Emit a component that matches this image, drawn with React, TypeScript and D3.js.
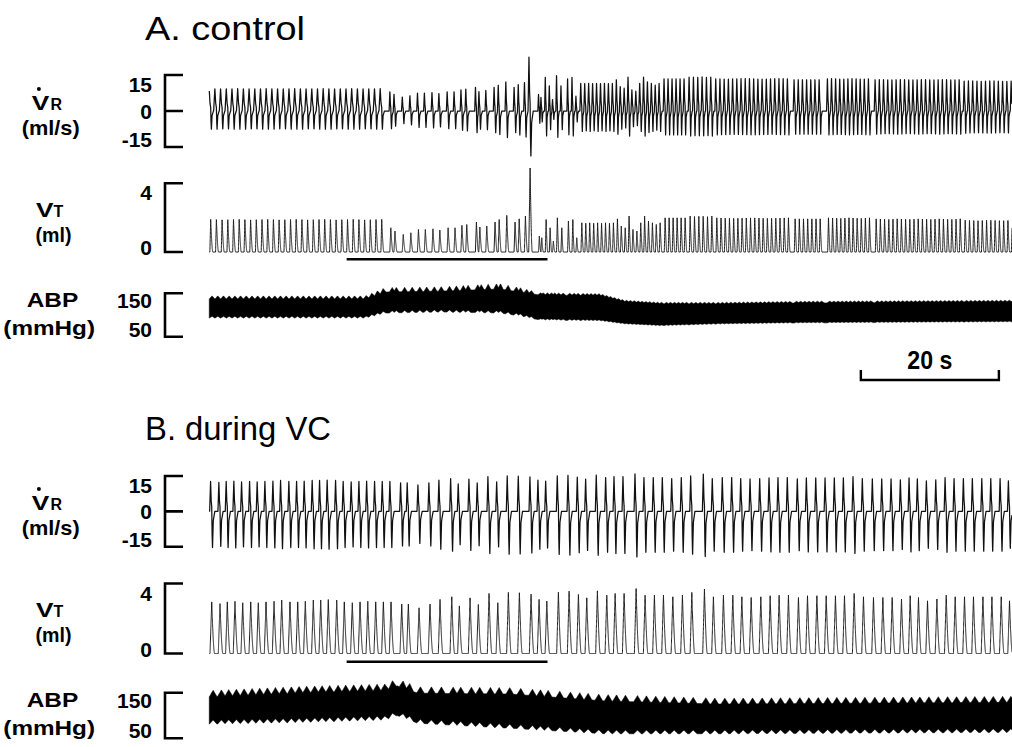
import React from "react";
import * as d3 from "d3";

// ---------------- time axis (seconds) ----------------
const timeDomain = [0, 116.2];
const scaleBarSec = [94.3, 114.3];
const vcMarkerSec = [19.8, 48.9];

// ---------------- Panel A (control) ----------------
// regular breath groups: [first peak (s), last peak (s), breaths, VT peak (ml)]
const aPreGroups = [[0.1, 24.88, 31, 1.9]];
const aVcTimes = [26.2, 26.8, 28.0, 29.1, 30.2, 31.2, 32.3, 33.3, 34.5, 35.5, 36.5, 37.2, 38.6, 39.1, 40.1, 41.3, 41.9, 43.0, 44.2, 44.8, 45.7];
const aVcVT = [1.41, 1.22, 1.02, 1.12, 1.31, 1.31, 1.35, 1.28, 1.41, 1.41, 1.55, 1.6, 1.74, 1.45, 1.51, 1.74, 1.89, 2.13, 1.74, 1.93, 2.09];
const aSighTimes = [46.38];
const aSighVT = [4.89];
const aIrrTimes = [47.72, 48.07, 48.7, 49.28, 49.75, 50.33, 50.97, 51.93, 52.57, 53.14];
const aIrrVT = [0.93, 0.83, 1.89, 1.41, 0.64, 1.99, 1.41, 1.8, 1.89, 0.83];
const aPostTimes = [59.03, 59.59, 60.16, 60.72, 61.28, 61.85, 62.41, 62.97, 63.53, 64.1, 64.66, 65.22];
const aPostVT = [1.93, 1.51, 1.41, 2.09, 1.31, 1.22, 1.7, 2.09, 1.8, 1.7, 1.6, 1.7];
const aPostGroups = [
  [53.87, 58.45, 9, 1.7],
  [65.94, 68.84, 6, 1.99],
  [69.57, 72.71, 6, 2.09],
  [73.43, 83.81, 18, 1.99],
  [84.78, 88.41, 7, 1.93],
  [89.61, 95.55, 11, 1.99],
  [96.52, 108.7, 21, 1.93],
  [109.42, 116.23, 12, 1.85],
];
// ABP envelope knots (mmHg)
const abpATime = [0, 22.5, 25.4, 33.3, 42.0, 44.9, 47.8, 56.5, 60.1, 65.2, 73.9, 85.5, 116.2];
const abpASys = [137, 137, 153, 155, 160, 153, 146, 144, 130, 125, 125, 127.6, 130];
const abpADia = [93, 93, 104.6, 107, 104.6, 98, 88.5, 86, 79, 75, 79, 81.6, 84];
const abpASwingTop = [7, 7, 10, 10, 12, 10, 5, 5, 4, 4, 4, 4, 4];
const abpASwingBot = [4, 4, 5, 5, 5, 5, 3, 3, 2, 2, 2, 2, 2];

// ---------------- Panel B (during VC) ----------------
const bTimes = [
  0.25, 1.45, 2.51, 3.62, 4.74, 5.9, 7.0, 8.12, 9.28, 10.39, 11.59, 12.71, 13.81, 14.97, 16.04, 17.14, 18.36, 19.46, 20.62, 21.74, 22.86, 24.01, 25.12, 26.23,
  27.78, 28.74, 30.29, 31.88, 33.33, 35.03, 36.13, 37.68, 38.88, 40.43, 41.7, 43.23, 44.83, 46.52, 47.68, 48.8, 50.48, 52.03, 53.38, 54.59, 56.13, 57.49, 58.7,
  60.0, 61.74, 63.04, 64.39, 65.7, 67.06, 68.45, 69.81, 71.64, 72.94, 74.39, 75.75, 77.06, 78.41, 79.81, 81.16, 82.46, 83.81, 85.26, 86.57, 87.93, 89.28,
  90.62, 91.93, 93.33, 94.68, 96.13, 97.49, 98.84, 100.19, 101.45, 102.65, 103.96, 105.32, 106.67, 107.97, 109.32, 110.62, 111.99, 113.29, 114.64, 115.84,
];
const bVT = [
  2.95, 2.85, 2.95, 2.98, 2.9, 2.95, 2.9, 2.95, 2.98, 3.05, 2.95, 2.95, 2.98, 3.05, 3.05, 3.08, 3.05, 2.95, 2.9, 2.95, 2.98, 2.95, 2.95, 2.95,
  2.82, 2.82, 2.61, 2.82, 3.09, 3.24, 2.72, 3.18, 2.8, 3.43, 2.9, 3.49, 3.47, 3.39, 3.09, 2.99, 3.5, 3.56, 3.37, 3.18, 3.58, 3.33, 3.43,
  3.43, 3.71, 3.33, 3.33, 3.33, 3.24, 3.33, 3.49, 3.68, 3.24, 3.33, 3.33, 3.24, 3.2, 3.24, 3.3, 3.33, 3.33, 3.2, 3.3, 3.3, 3.3,
  3.3, 3.3, 3.43, 3.24, 3.2, 3.2, 3.2, 3.11, 3.3, 3.2, 3.01, 3.11, 3.33, 3.24, 3.24, 3.24, 3.24, 3.24, 3.24, 3.01,
];
const abpBTime = [0, 13.6, 25.4, 27.1, 30.1, 43.6, 57.1, 73.6, 116.2];
const abpBSys = [141, 150, 155, 165, 149, 147, 132, 125, 129];
const abpBDia = [81, 85, 90, 100, 83, 72, 60, 60, 63];
const abpBSwingTop = [14, 14, 14, 16, 14, 14, 14, 13, 13];
const abpBSwingBot = [9, 9, 9, 9, 9, 9, 8, 8, 8];

// ---------------- rendering helpers ----------------
// r/f: VT rise / fall time (s); vr/vf: VR waveform extent before / after the VT peak (s); up/dn: VR gain per ml
type Sty = { r: number; f: number; vr: number; vf: number; up: number; dn: number };
const STY: Record<string, Sty> = {
  aPre: { r: 0.12, f: 0.3, vr: 0.4, vf: 0.4, up: 4.9, dn: 4.0 },
  aVc: { r: 0.15, f: 0.3, vr: 0.25, vf: 0.38, up: 5.8, dn: 5.2 },
  aSigh: { r: 0.2, f: 0.3, vr: 0.3, vf: 0.45, up: 4.6, dn: 3.9 },
  aIrr: { r: 0.12, f: 0.22, vr: 0.22, vf: 0.28, up: 7.5, dn: 5.5 },
  aPost: { r: 0.12, f: 0.25, vr: 0.28, vf: 0.3, up: 6.8, dn: 5.0 },
  b: { r: 0.25, f: 0.4, vr: 0.3, vf: 0.45, up: 4.3, dn: 5.3 },
};
type Breath = { t: number; vt: number; s: Sty };

function fromGroups(groups: number[][], s: Sty): Breath[] {
  const out: Breath[] = [];
  groups.forEach(([t0, t1, n, vt]) => {
    for (let i = 0; i < n; i++) out.push({ t: n > 1 ? t0 + (i * (t1 - t0)) / (n - 1) : t0, vt, s });
  });
  return out;
}
function fromLists(ts: number[], vts: number[], s: Sty): Breath[] {
  return ts.map((t, i) => ({ t, vt: vts[i], s }));
}

function vtK(u: number, b: Breath) {
  const { r, f } = b.s;
  if (u <= -r || u >= f) return 0;
  if (u <= 0) return b.vt * (1 + u / r);
  return b.vt * Math.pow(1 - u / f, 1.6);
}
function vrK(u: number, b: Breath) {
  const r = b.s.vr, f = b.s.vf;
  if (u <= -r || u >= f) return 0;
  const A = b.s.up * b.vt, D = b.s.dn * b.vt;
  const pts = [
    [-r, 0], [-0.8 * r, 0.45 * A], [-0.55 * r, A], [-0.25 * r, 0.35 * A], [0, 0.15 * A],
    [0.12 * f, -0.6 * D], [0.25 * f, -D], [0.5 * f, -0.25 * D], [f, 0],
  ];
  for (let i = 1; i < pts.length; i++) {
    if (u <= pts[i][0]) {
      const [x0, y0] = pts[i - 1], [x1, y1] = pts[i];
      return y0 + ((y1 - y0) * (u - x0)) / (x1 - x0);
    }
  }
  return 0;
}
const extent = (b: Breath) => [Math.max(b.s.r, b.s.vr), Math.max(b.s.f, b.s.vf)];

const T0 = -0.1, T1 = 116.2, DT = 0.005;
const N = Math.round((T1 - T0) / DT) + 1;

function buildTrace(breaths: Breath[], k: (u: number, b: Breath) => number) {
  const v = new Float64Array(N);
  breaths.forEach((b) => {
    const [e0, e1] = extent(b);
    const i0 = Math.max(0, Math.floor((b.t - e0 - T0) / DT));
    const i1 = Math.min(N - 1, Math.ceil((b.t + e1 - T0) / DT));
    for (let i = i0; i <= i1; i++) v[i] += k(T0 + i * DT - b.t, b);
  });
  const pts: [number, number][] = [];
  for (let i = 0; i < N; i++) pts.push([T0 + i * DT, v[i]]);
  return pts;
}

function buildAbp(breaths: Breath[], time: number[], sys: number[], dia: number[], swT: number[], swB: number[], w: number) {
  const dt = 0.02;
  const n = Math.round((T1 - T0) / dt) + 1;
  const g = new Float64Array(n);
  const lag = 0.2;
  breaths.forEach((b) => {
    const c = b.t + lag;
    const i0 = Math.max(0, Math.floor((c - w - T0) / dt));
    const i1 = Math.min(n - 1, Math.ceil((c + w - T0) / dt));
    for (let i = i0; i <= i1; i++) {
      const val = Math.max(0, 1 - Math.abs(T0 + i * dt - c) / w);
      if (val > g[i]) g[i] = val;
    }
  });
  const S = d3.scaleLinear().domain(time).range(sys).clamp(true);
  const D = d3.scaleLinear().domain(time).range(dia).clamp(true);
  const ST = d3.scaleLinear().domain(time).range(swT).clamp(true);
  const SB = d3.scaleLinear().domain(time).range(swB).clamp(true);
  const out: { t: number; hi: number; lo: number }[] = [];
  for (let i = 0; i < n; i++) {
    const t = T0 + i * dt;
    out.push({ t, hi: S(t) + ST(t) * g[i], lo: D(t) + SB(t) * g[i] });
  }
  return out;
}

const breathsA: Breath[] = [
  ...fromGroups(aPreGroups, STY.aPre),
  ...fromLists(aVcTimes, aVcVT, STY.aVc),
  ...fromLists(aSighTimes, aSighVT, STY.aSigh),
  ...fromLists(aIrrTimes, aIrrVT, STY.aIrr),
  ...fromLists(aPostTimes, aPostVT, STY.aPost),
  ...fromGroups(aPostGroups, STY.aPost),
];
const breathsB: Breath[] = fromLists(bTimes, bVT, STY.b);

const FONT = "'Liberation Sans', Arial, Helvetica, sans-serif";

export default function App() {
  const x = d3.scaleLinear().domain(timeDomain).range([210, 1012]);

  const panels = [
    {
      dy: 0, title: "A. control", titleLen: 160, breaths: breathsA, vrW: 1.25,
      abp: buildAbp(breathsA, abpATime, abpASys, abpADia, abpASwingTop, abpASwingBot, 0.4),
      vr: d3.scaleLinear().domain([-15, 15]).range([147, 75]),
      vt: d3.scaleLinear().domain([0, 4]).range([252, 183.3]),
      bp: d3.scaleLinear().domain([50, 150]).range([336.7, 293.3]),
      vcY: 259.3,
    },
    {
      dy: 400, title: "B. during VC", titleLen: 186, breaths: breathsB, vrW: 1.25,
      abp: buildAbp(breathsB, abpBTime, abpBSys, abpBDia, abpBSwingTop, abpBSwingBot, 0.55),
      vr: d3.scaleLinear().domain([-15, 15]).range([546.7, 476]),
      vt: d3.scaleLinear().domain([0, 4]).range([653.5, 583.5]),
      bp: d3.scaleLinear().domain([50, 150]).range([738.3, 692.7]),
      vcY: 661.7,
    },
  ];

  const bracket = (y0: number, y1: number, ym?: number) => {
    let d = `M183,${y0}H165V${y1}H183`;
    if (ym !== undefined) d += `M165,${ym}H183`;
    return <path d={d} fill="none" stroke="#000" strokeWidth={2.6} />;
  };

  return (
    <svg width={1012} height={747} style={{ position: "absolute", left: 0, top: 0, background: "#fff" }} fontFamily={FONT}>
      <rect x={0} y={0} width={1012} height={747} fill="#fff" />
      {panels.map((p, pi) => {
        const dy = p.dy;
        const vrLine = d3.line<[number, number]>().x((d) => x(d[0])).y((d) => p.vr(d[1]));
        const vtLine = d3.line<[number, number]>().x((d) => x(d[0])).y((d) => p.vt(d[1]));
        const area = d3.area<{ t: number; hi: number; lo: number }>().x((d) => x(d.t)).y0((d) => p.bp(d.lo)).y1((d) => p.bp(d.hi));
        const vrPts = buildTrace(p.breaths, vrK);
        const vtPts = buildTrace(p.breaths, vtK);
        return (
          <g key={pi}>
            <text x={145} y={40 + dy} fontSize={34} textLength={p.titleLen} lengthAdjust="spacingAndGlyphs" fill="#000">{p.title}</text>

            {/* VR label */}
            <text x={31.7} y={110 + dy} fontSize={21} fontWeight="bold" textLength={17.5} lengthAdjust="spacingAndGlyphs">V</text>
            <circle cx={38.9} cy={89 + dy} r={2} fill="#000" />
            <text x={50.5} y={110 + dy} fontSize={16} fontWeight="bold">R</text>
            <text x={21.7} y={135 + dy} fontSize={21} fontWeight="bold" textLength={58} lengthAdjust="spacingAndGlyphs">(ml/s)</text>
            {/* VT label */}
            <text x={36} y={216.7 + dy} fontSize={21} fontWeight="bold" textLength={17.5} lengthAdjust="spacingAndGlyphs">V</text>
            <text x={53.5} y={216.7 + dy} fontSize={16} fontWeight="bold">T</text>
            <text x={35.5} y={241.7 + dy} fontSize={21} fontWeight="bold" textLength={36} lengthAdjust="spacingAndGlyphs">(ml)</text>
            {/* ABP label */}
            <text x={26.7} y={306.7 + dy} fontSize={21} fontWeight="bold" textLength={51.6} lengthAdjust="spacingAndGlyphs">ABP</text>
            <text x={3.3} y={335 + dy} fontSize={21} fontWeight="bold" textLength={91.7} lengthAdjust="spacingAndGlyphs">(mmHg)</text>

            {/* tick labels */}
            <g fontSize={21} fontWeight="bold" textAnchor="end">
              <text x={152} y={p.vr(15) + 17}>15</text>
              <text x={152} y={p.vr(0) + 8}>0</text>
              <text x={152} y={p.vr(-15)}>-15</text>
              <text x={152} y={p.vt(4) + 17}>4</text>
              <text x={152} y={p.vt(0) + 3}>0</text>
              <text x={152} y={p.bp(150) + 15}>150</text>
              <text x={152} y={p.bp(50)}>50</text>
            </g>
            {bracket(p.vr(15), p.vr(-15), p.vr(0))}
            {bracket(p.vt(4), p.vt(0))}
            {bracket(p.bp(150), p.bp(50))}

            {/* traces */}
            <path d={vrLine(vrPts) || ""} fill="none" stroke="#111" strokeWidth={p.vrW} strokeLinejoin="round" />
            <path d={vtLine(vtPts) || ""} fill="none" stroke="#1a1a1a" strokeWidth={1} strokeLinejoin="round" />
            <path d={area(p.abp) || ""} fill="#000" stroke="#000" strokeWidth={0.6} />

            {/* VC marker */}
            <line x1={x(vcMarkerSec[0])} x2={x(vcMarkerSec[1])} y1={p.vcY} y2={p.vcY} stroke="#000" strokeWidth={2.4} />
          </g>
        );
      })}
      {/* 20 s scale bar */}
      <path d={`M${x(scaleBarSec[0])},370V380H${x(scaleBarSec[1])}V370`} fill="none" stroke="#000" strokeWidth={2.4} />
      <text x={(x(scaleBarSec[0]) + x(scaleBarSec[1])) / 2} y={369} fontSize={26} fontWeight="bold" textAnchor="middle" textLength={45} lengthAdjust="spacingAndGlyphs">20 s</text>
    </svg>
  );
}
